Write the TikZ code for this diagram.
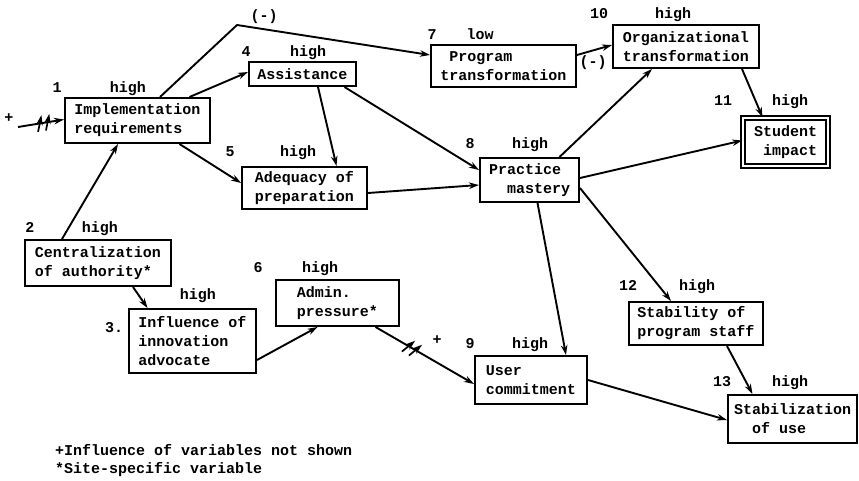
\documentclass[tikz,border=0pt]{standalone}
\usepackage{fontspec}
\setmonofont{Liberation Mono}
\usetikzlibrary{arrows.meta,decorations.markings}

% one typewriter character of indentation
\newcommand\indch[1]{\hspace*{#1\dimexpr0.6em\relax}}

\tikzset{
  box/.style={draw, line width=2pt, align=left, inner sep=0pt},
  lbl/.style={anchor=base, inner sep=0pt},
  note/.style={anchor=base west, inner sep=0pt},
  arr/.style={line width=1.9pt, -{Stealth[length=10pt,width=6.5pt]}},
  cut/.style={postaction={decorate},
    decoration={markings, mark=at position #1 with {
      \draw[line width=1.7pt] (-8pt,-8pt) -- (-2pt,8pt);
      \draw[line width=1.7pt] (0pt,-8pt) -- (6pt,8pt);}}},
}

\begin{document}
\begin{tikzpicture}[x=1pt, y=-1pt,
  font=\ttfamily\bfseries\fontsize{15}{19}\selectfont]
\useasboundingbox (0,0) rectangle (859,480);

% variable boxes
\node[box, minimum width=145pt, minimum height=45pt] (n1) at (137.5,120.5)
  {Implementation\\requirements};
\node[box, minimum width=146pt, minimum height=46pt] (n2) at (98,263)
  {Centralization\\of authority*};
\node[box, minimum width=127pt, minimum height=64pt] (n3) at (192.5,341)
  {Influence of\\innovation\\advocate\indch{4}};
\node[box, minimum width=107pt, minimum height=24pt] (n4) at (302.5,74)
  {Assistance};
\node[box, minimum width=125pt, minimum height=42pt] (n5) at (304.5,188)
  {Adequacy of\\preparation};
\node[box, minimum width=123pt, minimum height=46pt] (n6) at (337.5,303)
  {Admin.\indch{3}\\pressure*};
\node[box, minimum width=145pt, minimum height=42pt] (n7) at (503.5,66)
  {\indch{1}Program\\transformation};
\node[box, minimum width=99pt, minimum height=44pt] (n8) at (529.5,180)
  {Practice\\\indch{2}mastery};
\node[box, minimum width=112pt, minimum height=48pt] (n9) at (531,380)
  {User\indch{6}\\commitment};
\node[box, minimum width=146pt, minimum height=43pt] (n10) at (686,46.5)
  {Organizational\\transformation};
\node[box, double, double distance=2pt, line width=1.6pt,
      minimum width=85pt, minimum height=48pt] (n11) at (785.5,142)
  {Student\\\indch{1}impact};
\node[box, minimum width=134pt, minimum height=43pt] (n12) at (696,323.5)
  {Stability of\\program staff};
\node[box, minimum width=129pt, minimum height=48pt] (n13) at (792.5,419)
  {Stabilization\\\indch{2}of use};

% numbers and levels
\node[lbl] (a1) at (57,92) {1};     \node[lbl] (b1) at (128,92) {high};
\node[lbl] (a2) at (30,232) {2};    \node[lbl] (b2) at (100,232) {high};
\node[lbl] (a3) at (114,332) {3.};  \node[lbl] (b3) at (198,299) {high};
\node[lbl] (a4) at (246,56) {4};    \node[lbl] (b4) at (308,56) {high};
\node[lbl] (a5) at (230,156) {5};   \node[lbl] (b5) at (298,156) {high};
\node[lbl] (a6) at (258,272) {6};   \node[lbl] (b6) at (320,272) {high};
\node[lbl] (a7) at (432,39) {7};    \node[lbl] (b7) at (480,39) {low};
\node[lbl] (a8) at (470,148) {8};   \node[lbl] (b8) at (530,148) {high};
\node[lbl] (a9) at (470,348) {9};   \node[lbl] (b9) at (530,348) {high};
\node[lbl] (a10) at (599,18) {10};  \node[lbl] (b10) at (673,18) {high};
\node[lbl] (a11) at (723,105) {11}; \node[lbl] (b11) at (790,105) {high};
\node[lbl] (a12) at (628,290) {12}; \node[lbl] (b12) at (697,290) {high};
\node[lbl] (a13) at (722,386) {13}; \node[lbl] (b13) at (790,386) {high};

% signs on connectors
\node[inner sep=0pt] (neg1) at (264,17) {(-)};
\node[inner sep=0pt] (neg2) at (593,63) {(-)};
\node[inner sep=0pt] (plus1) at (9,118) {+};
\node[inner sep=0pt] (plus2) at (437,340) {+};

% connectors
\coordinate (ext) at (18,127);
\coordinate (k1) at (237,25);
\draw[arr, cut=0.58] (ext) -- ([yshift=1pt]n1.west);
\draw[arr, line join=round] ([xshift=22.5pt]n1.north) -- (k1) -- ([yshift=11pt]n7.west);
\draw[arr] ([xshift=52pt]n1.north) -- ([yshift=2pt]n4.west);
\draw[arr] ([xshift=42pt]n1.south) -- ([yshift=5pt]n5.west);
\draw[arr] ([xshift=-36pt]n2.north) -- ([xshift=-19.5pt]n1.south);
\draw[arr] ([xshift=35pt]n2.south) -- ([xshift=-45pt]n3.north);
\draw[arr] ([xshift=15.5pt]n4.south) -- ([xshift=32pt]n5.north);
\draw[arr] ([xshift=42pt]n4.south) -- ([yshift=10pt]n8.west);
\draw[arr] ([yshift=-5pt]n5.east) -- ([yshift=-5pt]n8.west);
\draw[arr] ([yshift=-19pt]n3.east) -- ([xshift=-20pt]n6.south);
\draw[arr, cut=0.38] ([xshift=38pt]n6.south) -- ([yshift=-4pt]n9.west);
\draw[arr] ([yshift=11pt]n7.east) -- ([yshift=1.5pt]n10.west);
\draw[arr] ([xshift=30pt]n8.north) -- ([xshift=-34pt]n10.south);
\draw[arr] ([xshift=56pt]n10.south) -- ([xshift=-23pt]n11.north);
\draw[arr] ([yshift=2pt]n8.east) -- ([yshift=1.5pt]n11.west);
\draw[arr] ([yshift=-8pt]n8.east) -- ([xshift=-25pt]n12.north);
\draw[arr] ([xshift=8pt]n8.south) -- ([xshift=35pt]n9.north);
\draw[arr] ([xshift=31pt]n12.south) -- ([xshift=-40pt]n13.north);
\draw[arr] (n9.east) -- ([yshift=-1pt]n13.west);

% footnotes
\node[note] (f1) at (55,455) {+Influence of variables not shown};
\node[note] (f2) at (55,473) {*Site-specific variable};
\end{tikzpicture}
\end{document}
